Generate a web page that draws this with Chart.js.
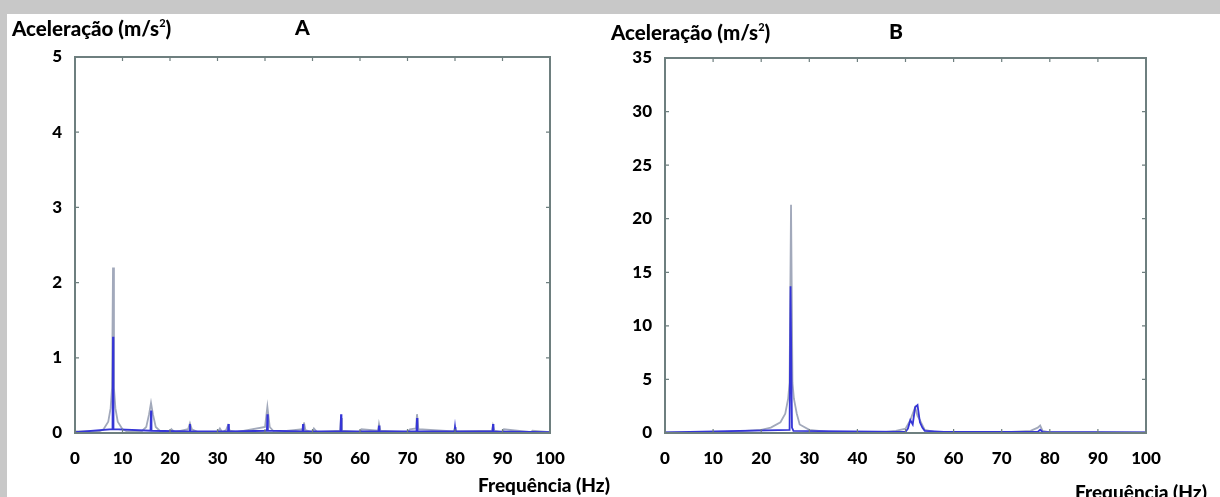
<!DOCTYPE html>
<html>
<head>
<meta charset="utf-8">
<script src="https://cdn.jsdelivr.net/npm/chart.js@4"></script>
<style>
  html, body { margin:0; padding:0; }
  body { width:1220px; height:497px; background:#c8c8c8; position:relative; overflow:hidden; font-family: Lato, "Open Sans", sans-serif; }
  #panel { position:absolute; left:7px; top:14px; width:1213px; height:483px; background:#fff; }
  canvas { position:absolute; top:0; }
  .t { position:absolute; font-weight:900; color:#000; white-space:nowrap; line-height:1; }
  .t sup { font-size:11px; vertical-align:top; position:relative; top:-1px; }
</style>
</head>
<body>
<div id="panel"></div>
<canvas id="cA" width="610" height="497" style="left:0px"></canvas>
<canvas id="cB" width="610" height="497" style="left:610px"></canvas>
<div class="t" style="left:12px; top:18px; font-size:20.5px;">Aceleração (m/s<sup>2</sup>)</div>
<div class="t" style="left:295px; top:16px; font-size:21px;">A</div>
<div class="t" style="left:478px; top:475px; font-size:19px;">Frequência (Hz)</div>
<div class="t" style="left:611px; top:22px; font-size:20.5px;">Aceleração (m/s<sup>2</sup>)</div>
<div class="t" style="left:889px; top:20px; font-size:21px;">B</div>
<div class="t" style="left:1075px; top:482px; font-size:19px;">Frequência (Hz)</div>
<script>
// ---------- DATA ----------
const xTicks = [0,10,20,30,40,50,60,70,80,90,100];
const yTicksA = [0,1,2,3,4,5];
const yTicksB = [0,5,10,15,20,25,30,35];

// Chart A - grey spectrum
const freqA_grey = [0,5,6,7,7.5,7.8,8,8.2,8.5,9,10,10.3,11,14,15,15.6,16,16.4,17,18,20,20.3,21,23.8,24.2,24.6,26,30,30.5,31,31.8,32.2,32.6,34,40,40.5,41,42,48,48.2,48.5,50,50.3,51,55.8,56,56.2,60,60.3,63.8,64,64.3,70,70.5,71.8,72,72.3,79.8,80,80.3,87.8,88,88.3,90,90.3,96,96.3,100];
const accA_grey  = [0.02,0.02,0.05,0.15,0.33,0.6,2.2,0.6,0.33,0.15,0.05,0.04,0.02,0.02,0.08,0.25,0.4,0.25,0.08,0.02,0.01,0.05,0.01,0.05,0.13,0.05,0.01,0.01,0.06,0.01,0.04,0.1,0.03,0.01,0.08,0.35,0.08,0.01,0.05,0.14,0.04,0.01,0.06,0.01,0.03,0.2,0.03,0.01,0.05,0.03,0.12,0.03,0.01,0.05,0.06,0.25,0.05,0.02,0.08,0.02,0.03,0.1,0.03,0.01,0.05,0.01,0.03,0.01];
// Chart A - blue spectrum
const freqA_blue = [0,7.9,8,8.1,15.9,16,16.1,24.1,24.2,24.3,32.2,32.3,32.4,40.4,40.5,40.6,47.9,48,48.1,55.9,56,56.1,63.9,64,64.1,71.9,72,72.1,79.9,80,80.1,87.9,88,88.1,100];
const accA_blue  = [0.01,0.05,1.28,0.05,0.03,0.3,0.03,0.02,0.12,0.02,0.02,0.12,0.02,0.03,0.25,0.03,0.02,0.12,0.02,0.02,0.25,0.02,0.02,0.1,0.02,0.02,0.2,0.02,0.02,0.08,0.02,0.02,0.12,0.02,0.01];

// Chart B - grey spectrum
const freqB_grey = [0,10,15,20,22,24,25,25.6,25.9,26.2,26.5,26.8,27.4,28,30,32,35,45,48,50,51,52,52.5,53,54,56,60,70,76,77.5,78,78.5,80,90,100];
const accB_grey  = [0.05,0.05,0.15,0.3,0.5,1.0,1.8,3.2,4.7,21.3,4.7,3.2,1.8,0.8,0.3,0.2,0.05,0.05,0.2,0.4,1.2,2.4,1.6,1.2,0.3,0.1,0.1,0.05,0.2,0.5,0.7,0.2,0.05,0.05,0.05];
// Chart B - blue spectrum
const freqB_blue = [0,25.9,26.1,26.4,26.7,50,50.5,51,51.5,52,52.5,53,53.5,54,56,58,77.5,78,78.5,100];
const accB_blue  = [0.05,0.3,13.7,0.5,0.2,0.1,0.4,1.2,0.8,2.4,2.6,1.0,0.5,0.2,0.15,0.1,0.1,0.3,0.1,0.05];

// ---------- STYLE / HELPERS ----------
const GREY = '#a2a9bb';
const BLUE = '#3535d6';
const FRAME = '#6e7f7f';

function pts(xs, ys){ return xs.map((x,i)=>({x:x, y:ys[i]})); }

const framePlugin = {
  id:'frame',
  afterDatasetsDraw(chart){
    const {ctx, chartArea:a, scales} = chart;
    ctx.save();
    ctx.strokeStyle = FRAME;
    ctx.lineWidth = 2;
    ctx.strokeRect(a.left, a.top, a.right-a.left, a.bottom-a.top);
    ctx.lineWidth = 1.2;
    ctx.beginPath();
    scales.x.ticks.forEach(t=>{
      const px = scales.x.getPixelForValue(t.value);
      ctx.moveTo(px, a.bottom); ctx.lineTo(px, a.bottom-4);
      ctx.moveTo(px, a.top); ctx.lineTo(px, a.top+4);
    });
    scales.y.ticks.forEach(t=>{
      const py = scales.y.getPixelForValue(t.value);
      ctx.moveTo(a.left, py); ctx.lineTo(a.left+4, py);
      ctx.moveTo(a.right, py); ctx.lineTo(a.right-4, py);
    });
    ctx.stroke();
    ctx.restore();
  }
};

function makeChart(id, grey, blue, yMax, yStep, yTickVals, area){
  const font = {family:'Lato, "Open Sans", sans-serif', size:17, weight:'900'};
  return new Chart(document.getElementById(id), {
    type:'line',
    data:{ datasets:[
      {data:blue, borderColor:BLUE, borderWidth:1.8, pointRadius:0, tension:0, order:0},
      {data:grey, borderColor:GREY, borderWidth:1.8, pointRadius:0, tension:0, order:1}
    ]},
    options:{
      responsive:false, animation:false,
      layout:{ padding:{ left:0, top:area.top, right:610-area.right, bottom:0 } },
      plugins:{ legend:{display:false}, tooltip:{enabled:false} },
      scales:{
        x:{ type:'linear', min:0, max:100,
            afterBuildTicks(s){ s.ticks = xTicks.map(v=>({value:v})); },
            grid:{display:false, drawTicks:false}, border:{display:false},
            ticks:{ color:'#000', font, padding:15, maxRotation:0, autoSkip:false },
            afterFit(s){ s.height = 497-area.bottom; } },
        y:{ type:'linear', min:0, max:yMax,
            afterBuildTicks(s){ s.ticks = yTickVals.map(v=>({value:v})); },
            grid:{display:false, drawTicks:false}, border:{display:false},
            ticks:{ color:'#000', font, padding:13, autoSkip:false },
            afterFit(s){ s.width = area.left; } }
      }
    },
    plugins:[framePlugin]
  });
}

makeChart('cA', pts(freqA_grey, accA_grey), pts(freqA_blue, accA_blue), 5, 1, yTicksA, {left:75, right:550, top:57, bottom:433});
makeChart('cB', pts(freqB_grey, accB_grey), pts(freqB_blue, accB_blue), 35, 5, yTicksB, {left:55, right:536, top:58, bottom:433});
</script>
</body>
</html>
